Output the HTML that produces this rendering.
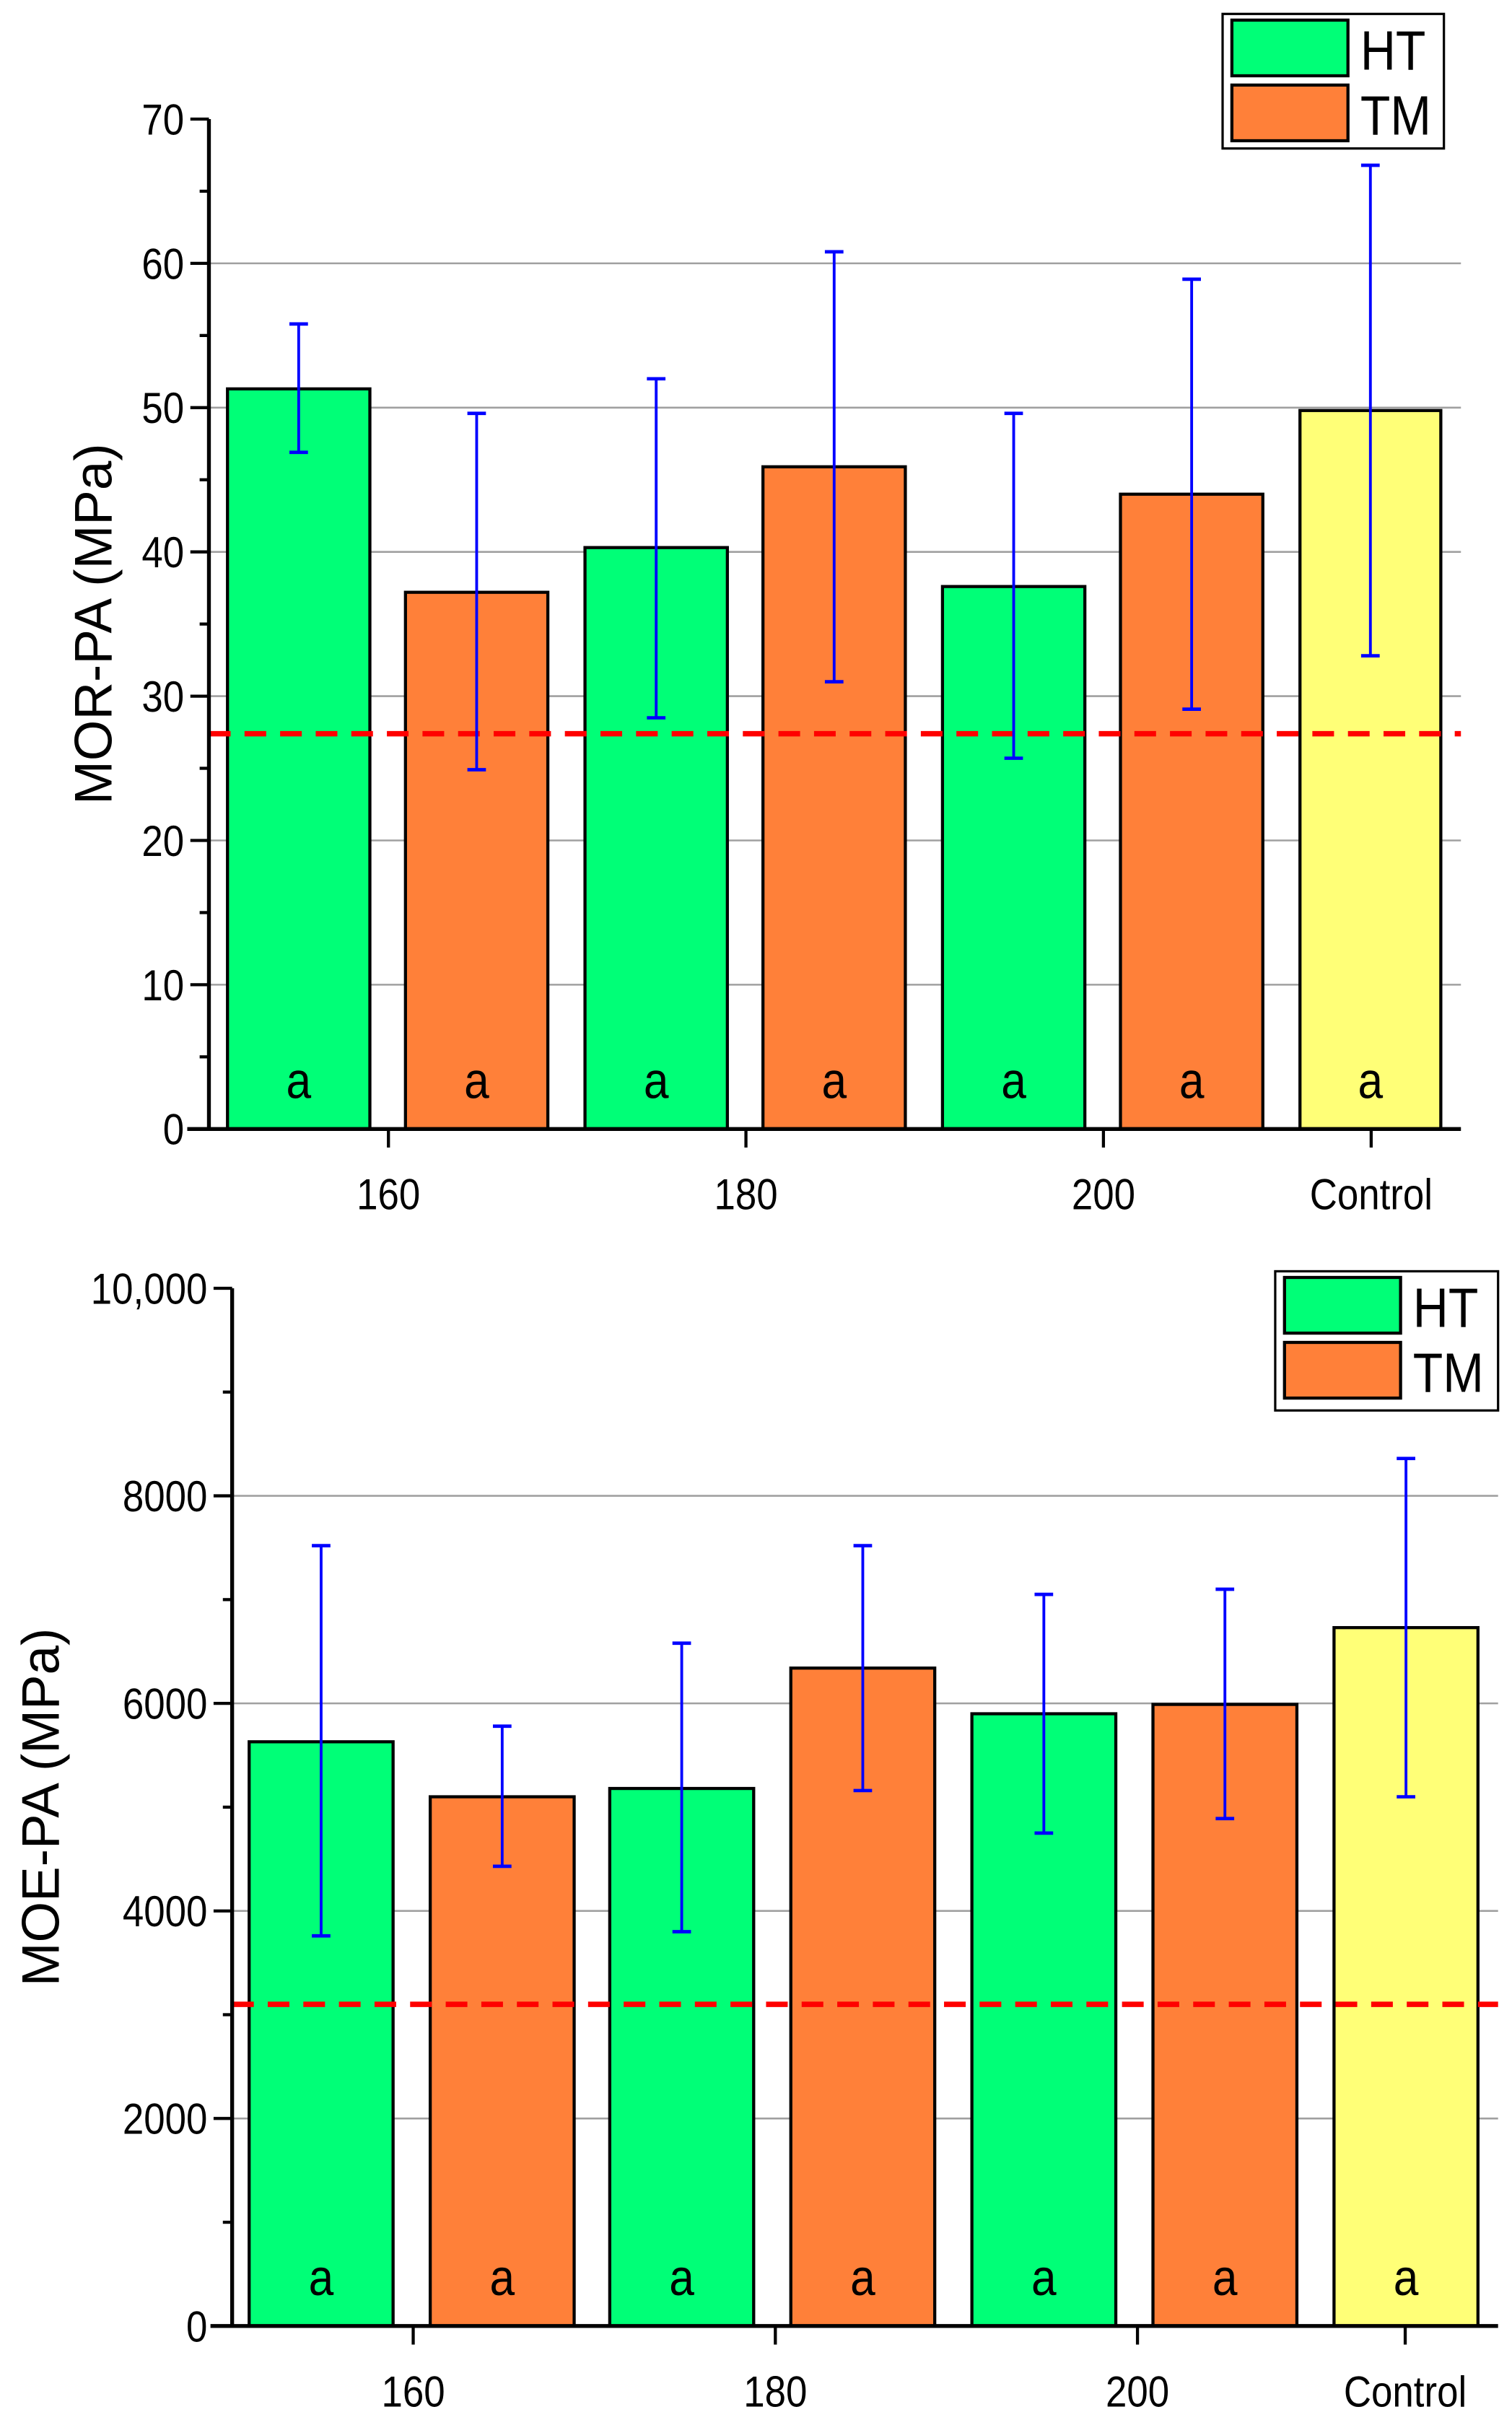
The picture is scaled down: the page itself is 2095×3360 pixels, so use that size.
<!DOCTYPE html>
<html><head><meta charset="utf-8"><style>html,body{margin:0;padding:0;background:#fff}svg{display:block}</style></head>
<body>
<svg id="s" xmlns="http://www.w3.org/2000/svg" width="2095" height="3360" viewBox="0 0 977 1568" preserveAspectRatio="none" font-family="Liberation Sans, sans-serif"></svg>
<script>
const s=document.getElementById('s');let h='<rect width="977" height="1568" fill="#fff"/>';
const G='#00ff77',O='#ff8039',Y='#ffff77';
const cols=[G,O,G,O,G,O,Y];
function T(x,y,txt,size,anchor){return `<text transform="translate(${x},${y}) scale(0.88,1)" font-size="${size}" text-anchor="${anchor}">${txt}</text>`;}
function chart(c){
  const {x0,x1,yTop,y0,max,step,minor,bars,vals,errs,dash,ticksX,labels,legend,ylab,ylx,fmt}=c;
  const sy=v=>y0-(v/max)*(y0-yTop);
  for(let v=step;v<max;v+=step){ h+=`<line x1="${x0}" x2="${x1}" y1="${sy(v)}" y2="${sy(v)}" stroke="#a0a0a0" stroke-width="1.2"/>`;}
  bars.forEach((b,i)=>{h+=`<rect x="${b[0]}" y="${sy(vals[i])}" width="${b[1]-b[0]}" height="${y0-sy(vals[i])}" fill="${cols[i]}" stroke="#000" stroke-width="2"/>`;});
  h+=`<line x1="${x0}" x2="${x1}" y1="${sy(dash)}" y2="${sy(dash)}" stroke="#f00" stroke-width="3.5" stroke-dasharray="14,9"/>`;
  bars.forEach((b,i)=>{const cx=(b[0]+b[1])/2,e=errs[i];
    h+=`<line x1="${cx}" x2="${cx}" y1="${sy(e[0])}" y2="${sy(e[1])}" stroke="#0000ff" stroke-width="1.8"/>`;
    h+=`<line x1="${cx-6}" x2="${cx+6}" y1="${sy(e[0])}" y2="${sy(e[0])}" stroke="#0000ff" stroke-width="2.2"/>`;
    h+=`<line x1="${cx-6}" x2="${cx+6}" y1="${sy(e[1])}" y2="${sy(e[1])}" stroke="#0000ff" stroke-width="2.2"/>`;
    h+=T(cx,y0-20,'a',33,'middle');});
  h+=`<line x1="${x0}" x2="${x0}" y1="${yTop}" y2="${y0+1}" stroke="#000" stroke-width="2.5"/>`;
  h+=`<line x1="${x0-14}" x2="${x1}" y1="${y0}" y2="${y0}" stroke="#000" stroke-width="2.5"/>`;
  for(let v=0;v<=max;v+=minor){const major=Math.abs(v/step-Math.round(v/step))<1e-6;
    h+=`<line x1="${x0-(major?12:6)}" x2="${x0}" y1="${sy(v)}" y2="${sy(v)}" stroke="#000" stroke-width="2"/>`;
    if(major) h+=T(x0-16,sy(v)+10,fmt(v),28,'end');}
  ticksX.forEach((t,i)=>{h+=`<line x1="${t}" x2="${t}" y1="${y0}" y2="${y0+12}" stroke="#000" stroke-width="2"/>`;
    h+=T(t,y0+52,labels[i],28,'middle');});
  h+=`<text transform="translate(${ylx},${sy(max/2)}) rotate(-90)" font-size="34" text-anchor="middle">${ylab}</text>`;
  const [lx,ly,lw,lh]=legend;
  h+=`<rect x="${lx}" y="${ly}" width="${lw}" height="${lh}" fill="#fff" stroke="#000" stroke-width="1.5"/>`;
  h+=`<rect x="${lx+6}" y="${ly+4}" width="75" height="36" fill="${G}" stroke="#000" stroke-width="2"/>`;
  h+=`<rect x="${lx+6}" y="${ly+46}" width="75" height="36" fill="${O}" stroke="#000" stroke-width="2"/>`;
  h+=T(lx+89,ly+36,'HT',36,'start')+T(lx+89,ly+78,'TM',36,'start');
}
chart({x0:135,x1:944,yTop:77,y0:730,max:70,step:10,minor:5,
 bars:[[147,239],[262,354],[378,470],[493,585],[609,701],[724,816],[840,931]],
 vals:[51.3,37.2,40.3,45.9,37.6,44.0,49.8],
 errs:[[46.9,55.8],[24.9,49.6],[28.5,52.0],[31.0,60.8],[25.7,49.6],[29.1,58.9],[32.8,66.8]],
 dash:27.4,ticksX:[251,482,713,886],labels:['160','180','200','Control'],
 legend:[790,9,143,87],ylab:'MOR-PA (MPa)',ylx:72,fmt:v=>v});
chart({x0:150,x1:968,yTop:833,y0:1504,max:10000,step:2000,minor:1000,
 bars:[[161,254],[278,371],[394,487],[511,604],[628,721],[745,838],[862,955]],
 vals:[5630,5100,5180,6340,5900,5990,6730],
 errs:[[3760,7520],[4430,5780],[3800,6580],[5160,7520],[4750,7050],[4890,7100],[5100,8360]],
 dash:3100,ticksX:[267,501,735,908],labels:['160','180','200','Control'],
 legend:[824,822,144,90],ylab:'MOE-PA (MPa)',ylx:38,fmt:v=>v==10000?'10,000':v});
s.innerHTML=h;
</script>
</body></html>
